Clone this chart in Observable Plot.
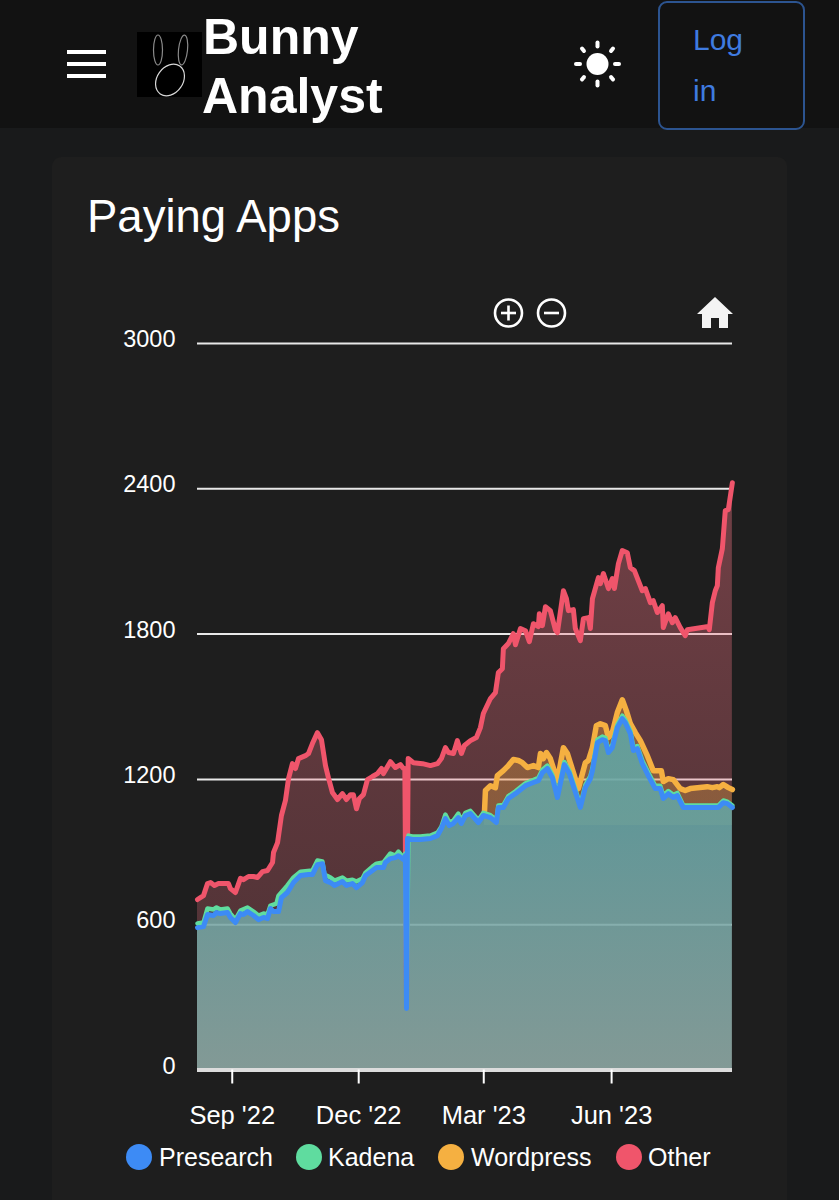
<!DOCTYPE html>
<html>
<head>
<meta charset="utf-8">
<script src="https://cdn.jsdelivr.net/npm/d3@7"></script>
<script src="https://cdn.jsdelivr.net/npm/@observablehq/plot@0.6"></script>
<style>
html,body{margin:0;padding:0;background:#191a1b;}
body{position:relative;width:839px;height:1200px;overflow:hidden;font-family:"Liberation Sans",Arial,sans-serif;color:#fff;}
.abs{position:absolute;white-space:nowrap;}
#head{left:0;top:0;width:839px;height:128px;background:#121212;}
#card{left:52px;top:157px;width:735px;height:1100px;background:#1e1e1e;border-radius:9px;}
#chart{left:0;top:300px;}
.brand{font-weight:700;font-size:50px;line-height:50px;}
.lg{color:#3f7be0;font-size:30px;line-height:30px;}
.legtxt{font-size:25px;line-height:30px;color:#fff;}
.dot{width:26px;height:26px;border-radius:50%;}
</style>
</head>
<body>
<div class="abs" id="head"></div>
<svg class="abs" style="left:67px;top:50px" width="39" height="28"><rect y="0" width="39" height="4" fill="#fff"/><rect y="12" width="39" height="4" fill="#fff"/><rect y="24" width="39" height="4" fill="#fff"/></svg>
<svg class="abs" style="left:137px;top:32px" width="65" height="65"><rect width="65" height="65" fill="#000"/><g fill="none" stroke-width="1.2"><ellipse cx="21" cy="18" rx="4.5" ry="15" stroke="#8a8a8a"/><ellipse cx="46" cy="18" rx="4.5" ry="15" stroke="#8a8a8a" transform="rotate(6 46 18)"/><ellipse cx="33" cy="48" rx="17" ry="13" transform="rotate(-55 33 48)" stroke="#d8d8d8"/></g></svg>
<div class="abs brand" style="left:203px;top:12px">Bunny</div>
<div class="abs brand" style="left:202px;top:71px">Analyst</div>
<svg class="abs" style="left:572px;top:39px" width="50" height="50"><circle cx="25.5" cy="25" r="11" fill="#fff"/><g stroke="#fff" stroke-width="4" stroke-linecap="round"><line x1="25.5" y1="3.5" x2="25.5" y2="7.5"/><line x1="25.5" y1="42.5" x2="25.5" y2="46.5"/><line x1="4" y1="25" x2="8" y2="25"/><line x1="43" y1="25" x2="47" y2="25"/><line x1="10" y1="9.5" x2="12" y2="12"/><line x1="39" y1="38" x2="41" y2="40.5"/><line x1="41" y1="9.5" x2="39" y2="12"/><line x1="12" y1="38" x2="10" y2="40.5"/></g></svg>
<div class="abs" style="left:658px;top:1px;width:143px;height:125px;border:2px solid #2c5490;border-radius:9px"></div>
<div class="abs lg" style="left:693px;top:25px">Log</div>
<div class="abs lg" style="left:693px;top:76px">in</div>
<div class="abs" id="card"></div>
<div class="abs" style="left:87px;top:191px;font-size:45.5px;line-height:52px;color:#fff">Paying Apps</div>
<div class="abs" id="chart"></div>
<svg class="abs" style="left:490px;top:295px" width="80" height="36"><g fill="none" stroke="#fff" stroke-width="2.6"><circle cx="18.5" cy="18" r="13.5"/><line x1="11" y1="18" x2="26" y2="18"/><line x1="18.5" y1="10.5" x2="18.5" y2="25.5"/><circle cx="61.5" cy="18" r="13.5"/><line x1="54" y1="18" x2="69" y2="18"/></g></svg>
<svg class="abs" style="left:696px;top:296px" width="38" height="34"><path d="M19 1 L37 18 L32 18 L32 32 L23 32 L23 22 L15 22 L15 32 L6 32 L6 18 L1 18 Z" fill="#f4f4f4"/></svg>
<div id="legend"></div>
<script>
// Days since the first sample (2022-08-07), and value
const otherDays = [0,4.3,7.2,9.4,12.2,15.1,18.7,22.3,23.7,27.3,30.9,33.1,36.7,40.3,43.2,46.8,50.4,54,54.7,57.6,60.4,63.3,65.5,68.3,70.5,72.7,77.7,79.9,82.7,86.3,89.2,92.1,94.2,97.1,100.7,104.3,107.2,110.1,112.2,114.4,116.5,119.4,122.3,125.9,129.5,132.4,133.8,138.8,142.4,146,148.2,149.2,150.4,151.6,155.4,161.9,167.6,172.7,175.5,178.4,180.6,184.2,187,189.9,192.1,196.4,200.7,203.6,205.7,210.8,214.4,216.5,219.4,220.1,223.7,227.3,228.8,232.4,236,238.8,241.7,245.3,246,248.2,250.4,253.9,257.5,259,263.3,265.5,266.9,270.5,271.9,275.5,277.7,281.3,282.7,284.2,288.5,289.9,292.1,295.7,298.5,300,302.9,305.7,309.3,311.5,314.4,320.1,322.3,325.9,328,330.9,334.5,335.2,338.8,341.7,343.8,347.4,351,352.5,367.6,368.3,370.5,372.6,374.1,374.8,377.7,379.8,382,384.9];
const otherValues = [704,720,770,774,762,770,770,770,749,733,791,786,799,799,795,819,824,857,898,939,1051,1113,1203,1265,1245,1286,1298,1307,1348,1393,1364,1257,1207,1146,1117,1141,1117,1137,1137,1079,1121,1137,1199,1212,1224,1245,1224,1273,1249,1261,1245,1245,320,1286,1269,1265,1257,1265,1286,1331,1311,1307,1360,1307,1340,1360,1373,1414,1472,1534,1558,1641,1657,1740,1761,1802,1756,1823,1814,1769,1843,1831,1884,1835,1913,1897,1818,1806,1979,1946,1897,1901,1823,1773,1864,1868,1823,1946,2033,2008,2050,1988,2029,1988,2091,2145,2136,2074,2062,1979,1988,1930,1938,1889,1917,1827,1884,1847,1868,1827,1794,1818,1831,1818,1930,1979,2000,2074,2153,2310,2314,2425];

const wordpressDays = [206.5,207.2,210.8,214.4,215.8,220.1,223.7,227.3,230.9,233.8,237.4,241.7,245.3,246.8,248.9,251.1,253.9,259,263.3,266.2,274.1,279.1,281.3,284.2,287,289.9,293.5,295.7,298.5,302.1,305.7,308.6,311.5,315.1,318.7,323.7,328,333.8,335.2,338.8,342.4,347.4,351,354.6,366.8,370.5,374.1,375.5,378.4,382,384.9];
const wordpressValues = [1063,1154,1174,1166,1216,1236,1257,1282,1278,1269,1249,1257,1249,1307,1286,1311,1286,1195,1331,1307,1162,1269,1278,1331,1422,1430,1422,1373,1393,1476,1529,1484,1430,1393,1360,1298,1236,1236,1191,1203,1199,1162,1154,1162,1170,1166,1170,1166,1179,1166,1158];

const kadenaDays = [0,4.3,7.2,11.5,13.7,16.5,21.6,23.7,27.3,30.9,36,40.3,43.9,47.5,50.4,52.5,54.7,56.8,58.3,64.7,69.1,74.1,82.7,86.3,89.9,91.4,95.7,98.6,104.3,107.2,111.5,114.4,118.7,120.9,125.9,128.8,133.8,138.8,142.4,144.6,148.2,149.6,150.4,151.8,154.7,160.4,167.6,172.7,175.5,178.4,181.2,184.1,187.7,189.9,192.8,196.4,202.1,205.7,210.8,215.1,216.5,220.1,223.7,228.8,236,241.7,245.3,248.2,251.8,255.4,259,264,267.6,275.5,279.1,282.7,284.2,287.8,291.3,293.5,295.7,298.5,302.1,305.7,307.9,311.5,313.7,316.5,320.1,324.4,329.4,333,335.2,338.8,342.4,345.3,349.6,354.6,366.8,374.8,378.4,381.3,384.9];
const kadenaValues = [605,609,667,663,671,663,667,646,621,658,671,654,638,646,642,679,683,687,720,762,795,819,824,865,861,807,795,782,795,782,786,778,791,815,840,852,857,894,885,902,877,894,290,968,964,964,968,980,1005,1055,1022,1030,1059,1028,1062,1070,1032,1062,1052,1032,1092,1094,1131,1151,1184,1197,1207,1240,1257,1218,1137,1272,1235,1096,1177,1214,1247,1364,1377,1372,1322,1342,1425,1463,1445,1400,1331,1338,1278,1228,1174,1174,1133,1152,1136,1144,1092,1092,1092,1092,1113,1108,1092];

const presearchDays = [0,4.3,7.2,11.5,13.7,16.5,21.6,23.7,27.3,30.9,33.1,36,40.3,43.9,47.5,50.4,52.5,54.7,58.3,60.4,64.7,69.1,74.1,79.9,82.7,86.3,89.9,92.1,95.7,98.6,104.3,107.2,111.5,114.4,118.7,120.9,125.9,128.8,133.8,135.2,138.8,142.4,144.6,148.2,149.6,150.4,151.1,154.7,160.4,167.6,172.7,175.5,178.4,181.2,184.1,187.7,189.9,192.8,196.4,202.1,205.7,210.8,215.1,216.5,220.1,223.7,228.8,236,241.7,245.3,248.2,251.8,255.4,259,264,267.6,275.5,279.1,282.7,284.2,287.8,291.3,293.5,295.7,298.5,302.1,305.7,307.9,311.5,313.7,316.5,320.1,324.4,329.4,333,335.2,338.8,342.4,345.3,349.6,354.6,366.8,374.8,378.4,381.3,384.9];
const presearchValues = [588,592,642,638,650,646,650,630,609,646,642,654,638,621,630,625,667,654,654,712,733,774,803,807,807,848,852,782,774,762,778,762,770,753,774,803,824,836,836,857,873,877,885,869,885,254,956,952,952,956,968,997,1038,1009,1018,1042,1018,1051,1059,1022,1051,1042,1022,1084,1084,1121,1141,1174,1187,1195,1228,1245,1207,1125,1261,1224,1084,1166,1203,1236,1352,1364,1360,1311,1331,1414,1451,1434,1389,1319,1327,1265,1216,1162,1162,1121,1141,1125,1133,1084,1084,1084,1084,1104,1100,1084];

const yTicks = [0,600,1200,1800,2400,3000];
const xTickDates = ["2022-09-01","2022-12-01","2023-03-01","2023-06-01"];
const seriesNames = ["Presearch","Kadena","Wordpress","Other"];
const seriesColors = ["#3d8bf5","#5fdc9f","#f5b041","#f0556b"];

const start = Date.UTC(2022,7,7);
const toDate = d => new Date(start + d*864e5);
const table = (days, values) => days.map((d,i) => ({date: toDate(d), value: values[i]}));
const other = table(otherDays, otherValues);
const wordpress = table(wordpressDays, wordpressValues);
const kadena = table(kadenaDays, kadenaValues);
const presearch = table(presearchDays, presearchValues);

const defs = () => {
  const ns = "http://www.w3.org/2000/svg";
  const d = document.createElementNS(ns,"defs");
  const grad = (id, stops) => {
    const g = document.createElementNS(ns,"linearGradient");
    g.setAttribute("id",id);
    g.setAttribute("x1","0");g.setAttribute("x2","0");g.setAttribute("y1","0");g.setAttribute("y2","1");
    stops.forEach(([o,c,a])=>{
      const s = document.createElementNS(ns,"stop");
      s.setAttribute("offset",o);s.setAttribute("stop-color",c);s.setAttribute("stop-opacity",a);g.appendChild(s);
    });
    d.appendChild(g);
  };
  grad("tealFade", [["0%","rgb(92,170,170)",0.85],["30%","rgb(100,168,168)",0.85],["100%","rgb(140,172,167)",0.85]]);
  grad("redFade", [["0%","rgb(240,115,130)",0.4],["55%","rgb(240,115,130)",0.29],["100%","rgb(240,115,130)",0.22]]);
  grad("orangeFade", [["0%",seriesColors[2],0.3],["34%",seriesColors[2],0.3],["34.1%",seriesColors[2],0],["100%",seriesColors[2],0]]);
  return d;
};

const common = {x:"date", y:"value"};
const plot = Plot.plot({
  width: 839,
  height: 830,
  marginLeft: 197,
  marginRight: 107,
  marginTop: 43,
  marginBottom: 60.5,
  style: {background:"transparent", fontFamily:"'Liberation Sans',Arial,sans-serif", color:"#fff", overflow:"visible"},
  x: {type:"utc", domain:[toDate(0), toDate(385)]},
  y: {domain:[0,3000]},
  marks: [
    defs,
    Plot.ruleY(yTicks.slice(1), {stroke:"#e8e8e8", strokeWidth:2}),
    Plot.areaY(other, {...common, fill:"url(#redFade)"}),
    Plot.areaY(wordpress, {...common, fill:"url(#orangeFade)"}),
    Plot.areaY(presearch, {...common, fill:"url(#tealFade)"}),
    Plot.ruleY([0], {stroke:"#dcdcdc", strokeWidth:4}),
    Plot.lineY(other, {...common, stroke:seriesColors[3], strokeWidth:5}),
    Plot.lineY(wordpress, {...common, stroke:seriesColors[2], strokeWidth:5.5}),
    Plot.lineY(kadena, {...common, stroke:seriesColors[1], strokeWidth:4.5}),
    Plot.lineY(presearch, {...common, stroke:seriesColors[0], strokeWidth:5}),
    Plot.axisY({ticks:yTicks, label:null, tickSize:0, tickPadding:22, fontSize:23.5, dy:-4, tickFormat:d3.format("d"), color:"#fff"}),
    Plot.axisX({ticks:xTickDates.map(s=>new Date(s)), label:null, tickSize:14, tickPadding:22, fontSize:25.5, strokeWidth:2, tickFormat:d3.utcFormat("%b '%y"), color:"#fff"})
  ]
});
document.getElementById("chart").appendChild(plot);

const legendDotX = [126,296,438,616];
const legendTextX = [159,328,471,648];
const legend = document.getElementById("legend");
seriesNames.forEach((name,i)=>{
  const dot = document.createElement("div");
  dot.className = "abs dot";
  dot.style.cssText = `left:${legendDotX[i]}px;top:1144px;background:${seriesColors[i]}`;
  legend.appendChild(dot);
  const t = document.createElement("div");
  t.className = "abs legtxt";
  t.style.cssText = `left:${legendTextX[i]}px;top:1142px`;
  t.textContent = name;
  legend.appendChild(t);
});
</script>
</body>
</html>
